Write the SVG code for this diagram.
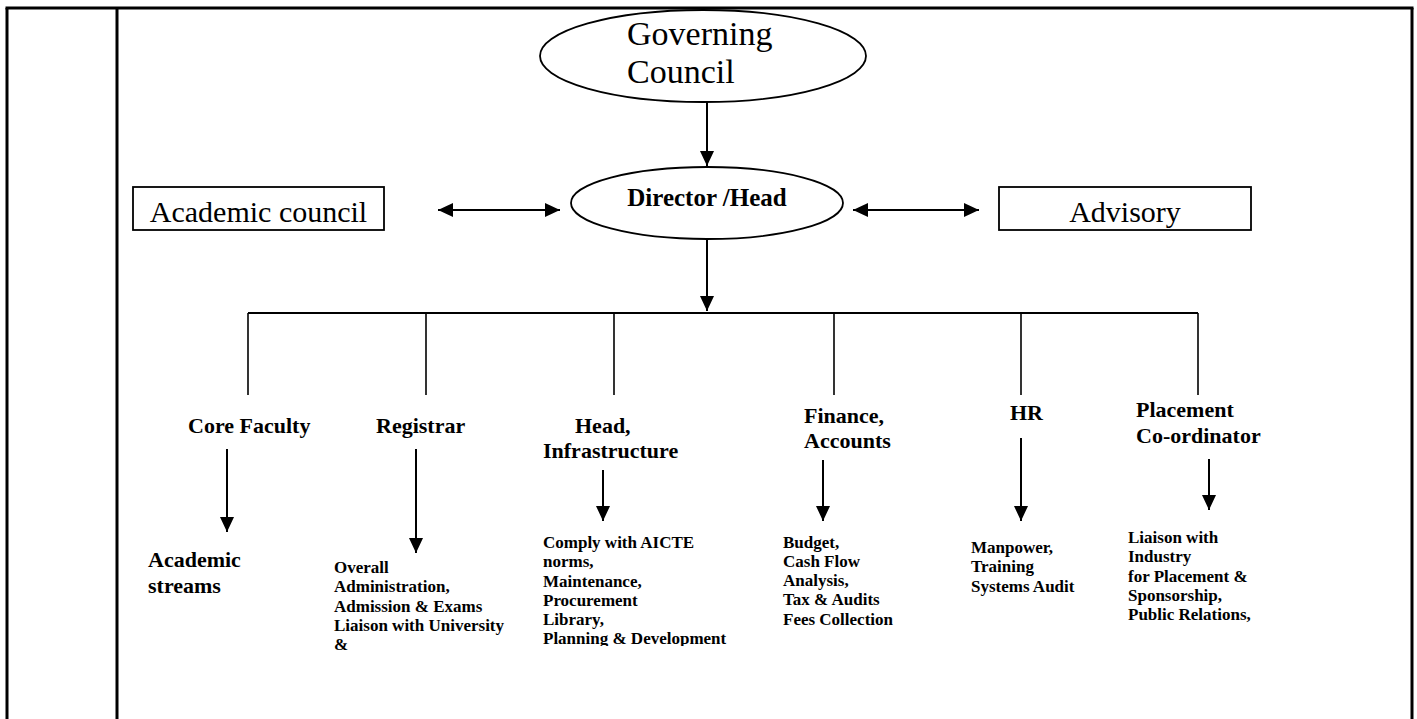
<svg xmlns="http://www.w3.org/2000/svg" width="1417" height="719" viewBox="0 0 1417 719">
<style>
.frame{stroke:#000;stroke-width:3;fill:none}
.shape{stroke:#000;stroke-width:1.8;fill:#fff}
.conn{stroke:#000;stroke-width:2;fill:none}
.bus{stroke:#000;stroke-width:1.6;fill:none}
.big{font-family:"Liberation Serif","DejaVu Serif",serif;font-size:30px;fill:#000}
.gc{font-family:"Liberation Serif","DejaVu Serif",serif;font-size:34px;fill:#000}
.dir{font-family:"Liberation Serif","DejaVu Serif",serif;font-size:25px;font-weight:bold;fill:#000}
.hd{font-family:"Liberation Serif","DejaVu Serif",serif;font-size:22px;font-weight:bold;fill:#000}
.bd{font-family:"Liberation Serif","DejaVu Serif",serif;font-size:17px;font-weight:bold;fill:#000}
</style>
<defs>
<marker id="ah" markerUnits="userSpaceOnUse" markerWidth="16" markerHeight="14" refX="15" refY="7" orient="auto-start-reverse" viewBox="0 0 16 14">
<path d="M0,0 L15,7 L0,14 z" fill="#000"/>
</marker>
<clipPath id="clipInfra"><rect x="530" y="520" width="220" height="126"/></clipPath>
</defs>
<rect width="1417" height="719" fill="#fff"/>
<g id="table">
<line class="frame" x1="5.5" y1="8" x2="1413.5" y2="8"/>
<line class="frame" x1="7" y1="8" x2="7" y2="719"/>
<line class="frame" x1="117" y1="8" x2="117" y2="719"/>
<line class="frame" x1="1412" y1="8" x2="1412" y2="719"/>
</g>
<g id="connectors">
<line class="conn" x1="707" y1="101" x2="707" y2="166" marker-end="url(#ah)"/>
<line class="conn" x1="438" y1="210" x2="560" y2="210" marker-start="url(#ah)" marker-end="url(#ah)"/>
<line class="conn" x1="853" y1="210" x2="979" y2="210" marker-start="url(#ah)" marker-end="url(#ah)"/>
<line class="conn" x1="707" y1="239" x2="707" y2="311" marker-end="url(#ah)"/>
<line class="conn" x1="248" y1="313" x2="1198" y2="313"/>
<line class="bus" x1="248" y1="313" x2="248" y2="395"/>
<line class="bus" x1="426" y1="313" x2="426" y2="395"/>
<line class="bus" x1="614" y1="313" x2="614" y2="395"/>
<line class="bus" x1="834" y1="313" x2="834" y2="395"/>
<line class="bus" x1="1021" y1="313" x2="1021" y2="395"/>
<line class="bus" x1="1198" y1="313" x2="1198" y2="395"/>
<line class="conn" x1="227" y1="449" x2="227" y2="532" marker-end="url(#ah)"/>
<line class="conn" x1="416" y1="449" x2="416" y2="553" marker-end="url(#ah)"/>
<line class="conn" x1="603" y1="470" x2="603" y2="521" marker-end="url(#ah)"/>
<line class="conn" x1="823" y1="460" x2="823" y2="521" marker-end="url(#ah)"/>
<line class="conn" x1="1021" y1="438" x2="1021" y2="521" marker-end="url(#ah)"/>
<line class="conn" x1="1209" y1="459" x2="1209" y2="510" marker-end="url(#ah)"/>
</g>
<g id="governing-council">
<ellipse class="shape" cx="703" cy="56" rx="163" ry="46"/>
<text class="gc" x="627" y="45">Governing</text>
<text class="gc" x="627" y="83">Council</text>
</g>
<g id="director">
<ellipse class="shape" cx="707" cy="203" rx="136" ry="36"/>
<text class="dir" x="707" y="206" text-anchor="middle">Director /Head</text>
</g>
<g id="academic-council">
<rect class="shape" x="133" y="187" width="251" height="43"/>
<text class="big" x="258.5" y="222" text-anchor="middle">Academic council</text>
</g>
<g id="advisory">
<rect class="shape" x="999" y="187" width="252" height="43"/>
<text class="big" x="1125" y="222" text-anchor="middle">Advisory</text>
</g>
<g id="core-faculty">
<text class="hd" x="188" y="433">Core Faculty</text>
</g>
<g id="academic-streams">
<text class="hd" x="148" y="567">Academic</text>
<text class="hd" x="148" y="593">streams</text>
</g>
<g id="registrar">
<text class="hd" x="376" y="433">Registrar</text>
</g>
<g id="registrar-duties">
<text class="bd" x="334" y="573">Overall</text>
<text class="bd" x="334" y="592">Administration,</text>
<text class="bd" x="334" y="612">Admission &amp; Exams</text>
<text class="bd" x="334" y="631">Liaison with University</text>
<text class="bd" x="334" y="650">&amp;</text>
</g>
<g id="head-infrastructure">
<text class="hd" x="575" y="433">Head,</text>
<text class="hd" x="543" y="458">Infrastructure</text>
</g>
<g id="infrastructure-duties" clip-path="url(#clipInfra)">
<text class="bd" x="543" y="548">Comply with AICTE</text>
<text class="bd" x="543" y="567">norms,</text>
<text class="bd" x="543" y="587">Maintenance,</text>
<text class="bd" x="543" y="606">Procurement</text>
<text class="bd" x="543" y="625">Library,</text>
<text class="bd" x="543" y="644">Planning &amp; Development</text>
</g>
<g id="finance">
<text class="hd" x="804" y="423">Finance,</text>
<text class="hd" x="804" y="448">Accounts</text>
</g>
<g id="finance-duties">
<text class="bd" x="783" y="548">Budget,</text>
<text class="bd" x="783" y="567">Cash Flow</text>
<text class="bd" x="783" y="586">Analysis,</text>
<text class="bd" x="783" y="605">Tax &amp; Audits</text>
<text class="bd" x="783" y="625">Fees Collection</text>
</g>
<g id="hr">
<text class="hd" x="1010" y="420">HR</text>
</g>
<g id="hr-duties">
<text class="bd" x="971" y="553">Manpower,</text>
<text class="bd" x="971" y="572">Training</text>
<text class="bd" x="971" y="592">Systems Audit</text>
</g>
<g id="placement">
<text class="hd" x="1136" y="417">Placement</text>
<text class="hd" x="1136" y="443">Co-ordinator</text>
</g>
<g id="placement-duties">
<text class="bd" x="1128" y="543">Liaison with</text>
<text class="bd" x="1128" y="562">Industry</text>
<text class="bd" x="1128" y="582">for Placement &amp;</text>
<text class="bd" x="1128" y="601">Sponsorship,</text>
<text class="bd" x="1128" y="620">Public Relations,</text>
</g>
</svg>
